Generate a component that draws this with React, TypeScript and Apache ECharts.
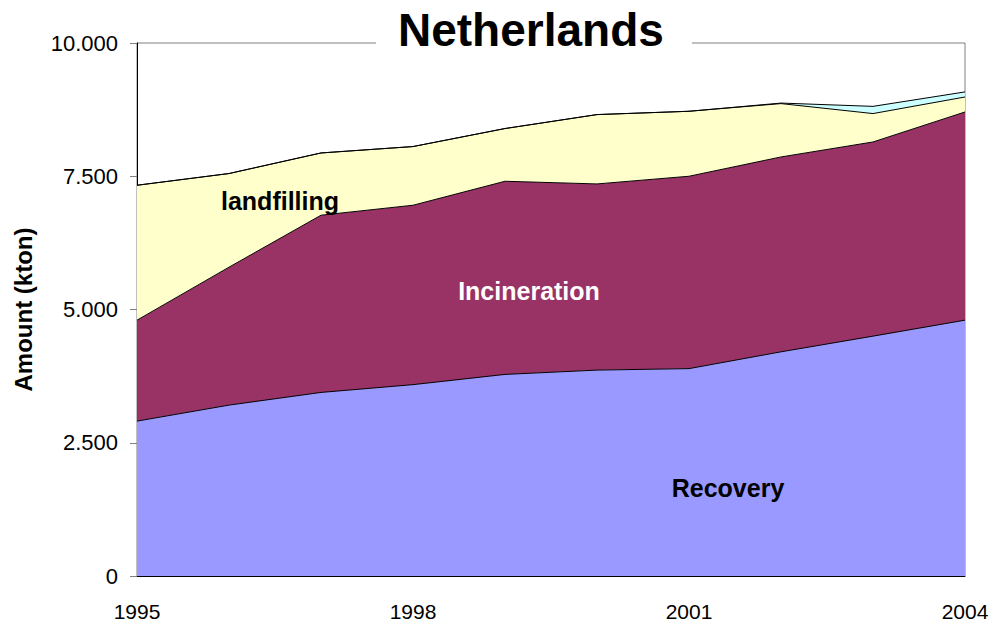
import React, { useEffect, useRef } from "react";
import * as echarts from "echarts";

const years = ["1995", "1996", "1997", "1998", "1999", "2000", "2001", "2002", "2003", "2004"];
const recovery = [2906, 3206, 3444, 3590, 3782, 3863, 3891, 4206, 4500, 4800];
const incineration = [1894, 2588, 3325, 3366, 3624, 3493, 3609, 3656, 3643, 3906];
const landfilling = [2531, 1757, 1168, 1101, 989, 1301, 1219, 1001, 533, 281];
const other = [0, 0, 0, 0, 0, 0, 0, 10, 135, 95];

const fmt = (v: number) => String(v).replace(/\B(?=(\d{3})+(?!\d))/g, ".");

export default function App() {
  const ref = useRef<HTMLDivElement>(null);
  useEffect(() => {
    if (!ref.current) return;
    const chart = echarts.init(ref.current, undefined, { renderer: "svg" });
    const font = "Liberation Sans, Arial, sans-serif";
    const mk = (name: string, data: number[], color: string) => ({
      name,
      type: "line",
      stack: "total",
      data,
      symbol: "none",
      lineStyle: { color: "#000", width: 1 },
      areaStyle: { color, opacity: 1 },
      itemStyle: { color },
      z: 2,
    });
    chart.setOption({
      animation: false,
      backgroundColor: "#fff",
      title: {
        text: "Netherlands",
        left: 376,
        top: 5,
        padding: [2, 28, 4, 22],
        backgroundColor: "#fff",
        z: 20,
        textStyle: { fontFamily: font, fontWeight: "bold", fontSize: 46, color: "#000" },
      },
      grid: {
        left: 137,
        right: 30,
        top: 43,
        bottom: 48,
        show: true,
        borderColor: "#808080",
        borderWidth: 1,
        backgroundColor: "transparent",
      },
      xAxis: {
        type: "category",
        data: years,
        boundaryGap: false,
        axisLine: { lineStyle: { color: "#000", width: 1 } },
        axisTick: { show: false },
        axisLabel: {
          interval: 2,
          margin: 25,
          fontFamily: font,
          fontSize: 21,
          color: "#000",
        },
        splitLine: { show: false },
      },
      yAxis: {
        type: "value",
        min: 0,
        max: 10000,
        interval: 2500,
        name: "Amount (kton)",
        nameLocation: "middle",
        nameGap: 102,
        nameTextStyle: { fontFamily: font, fontWeight: "bold", fontSize: 24, color: "#000" },
        axisLine: { show: true, lineStyle: { color: "#000", width: 1 } },
        axisTick: { show: true, length: 7, lineStyle: { color: "#808080" } },
        axisLabel: {
          margin: 19,
          fontFamily: font,
          fontSize: 22,
          color: "#000",
          formatter: (v: number) => fmt(v),
        },
        splitLine: { show: false },
      },
      series: [
        mk("Recovery", recovery, "#9999FF"),
        mk("Incineration", incineration, "#993366"),
        mk("landfilling", landfilling, "#FFFFCC"),
        mk("Other", other, "#CCFFFF"),
      ],
      graphic: [
        {
          type: "text",
          x: 280,
          y: 201,
          z: 30,
          style: {
            text: "landfilling",
            fill: "#000",
            font: "bold 25px " + font,
            align: "center",
            verticalAlign: "middle",
          },
        },
        {
          type: "text",
          x: 529,
          y: 291,
          z: 30,
          style: {
            text: "Incineration",
            fill: "#fff",
            font: "bold 25px " + font,
            align: "center",
            verticalAlign: "middle",
          },
        },
        {
          type: "text",
          x: 728,
          y: 488,
          z: 30,
          style: {
            text: "Recovery",
            fill: "#000",
            font: "bold 25px " + font,
            align: "center",
            verticalAlign: "middle",
          },
        },
      ],
    });
    return () => chart.dispose();
  }, []);
  return <div ref={ref} style={{ width: 995, height: 624, position: "absolute", left: 0, top: 0 }} />;
}
